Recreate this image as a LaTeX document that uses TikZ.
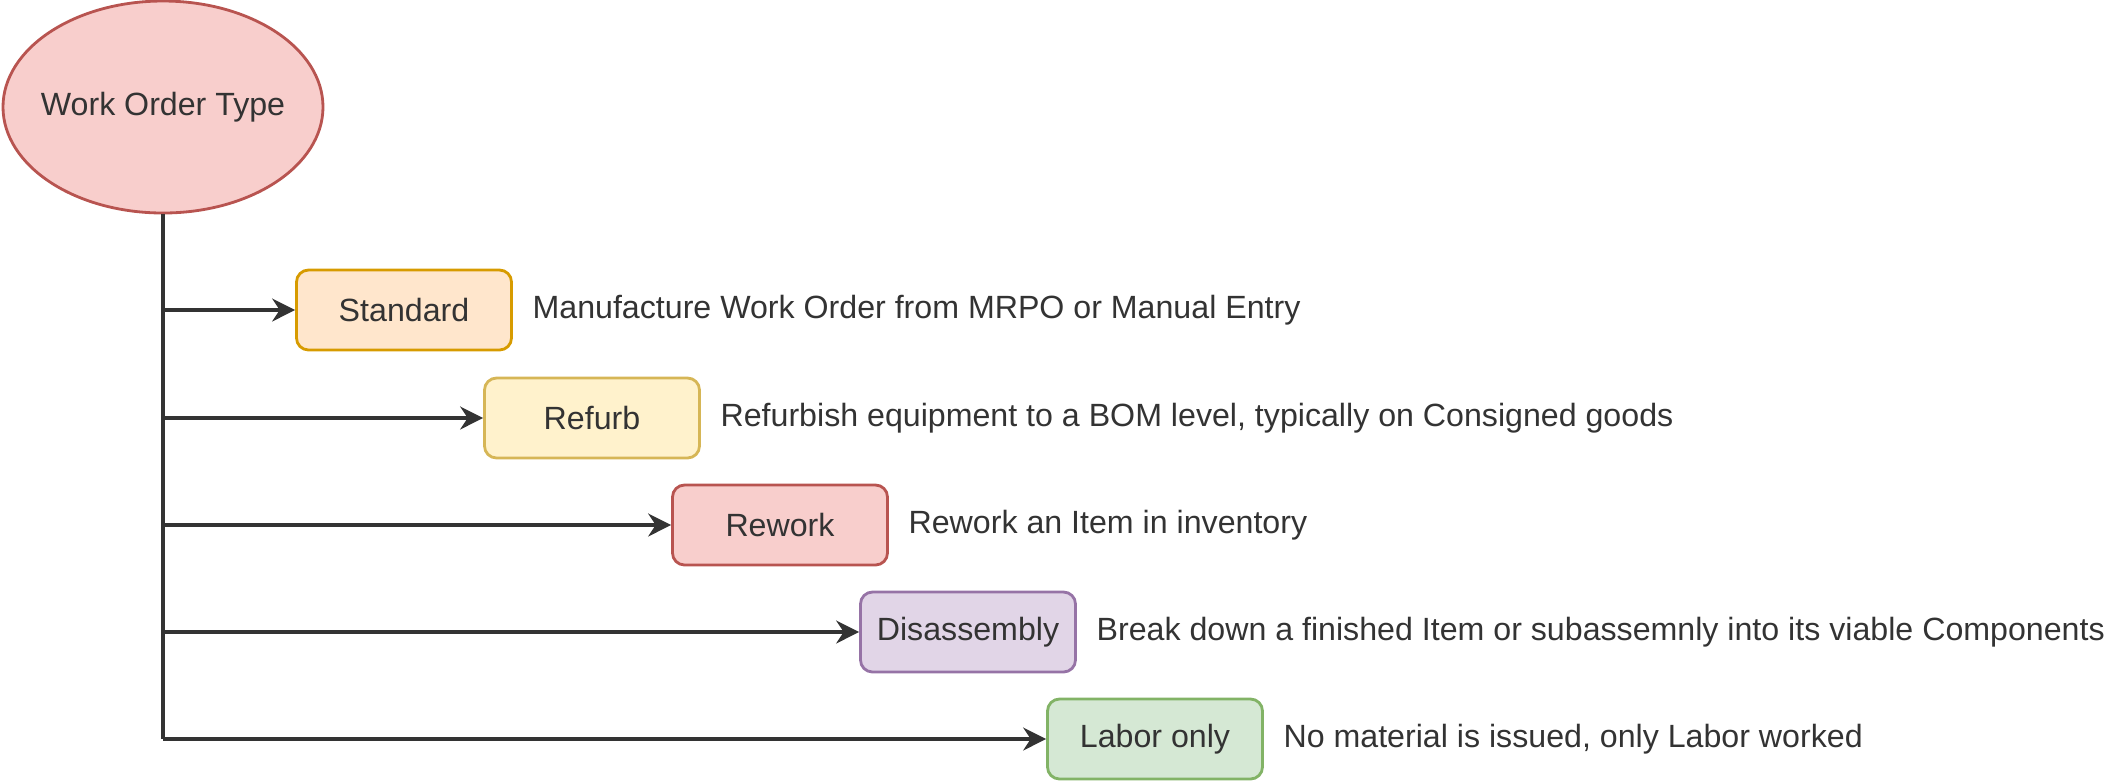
\documentclass[tikz,border=0pt]{standalone}
\usepackage{fontspec}
\setmainfont{Liberation Sans}
\usetikzlibrary{positioning,shapes.geometric,arrows.meta}
\definecolor{redfill}{HTML}{F8CECC}
\definecolor{redline}{HTML}{B85450}
\definecolor{orangefill}{HTML}{FFE6CC}
\definecolor{orangeline}{HTML}{D79B00}
\definecolor{yellowfill}{HTML}{FFF2CC}
\definecolor{yellowline}{HTML}{D6B656}
\definecolor{purplefill}{HTML}{E1D5E7}
\definecolor{purpleline}{HTML}{9673A6}
\definecolor{greenfill}{HTML}{D5E8D4}
\definecolor{greenline}{HTML}{82B366}
\definecolor{ink}{HTML}{333333}
\tikzset{
  typebox/.style={draw,rounded corners=0.12cm,line width=0.8pt,minimum width=2.15cm,minimum height=0.8cm,inner sep=0pt,text=ink,font=\fontsize{9.15}{11}\selectfont},
  note/.style={inner sep=0pt,text=ink,font=\fontsize{9.15}{11}\selectfont},
  branch/.style={line width=1pt,draw=ink,-{Stealth[length=6.5pt,width=6.5pt]}}
}
\begin{document}
\begin{tikzpicture}
\useasboundingbox (0,0) rectangle (21.24,-7.81);
\node[ellipse,draw=redline,fill=redfill,line width=0.8pt,minimum width=3.2cm,minimum height=2.12cm,inner xsep=-0.12cm,inner ysep=0pt,text=ink,font=\fontsize{9.15}{11}\selectfont] (wot) at (1.63,-1.07) {Work Order Type};
% the five types
\node[typebox,draw=orangeline,fill=orangefill] (std) at (4.04,-3.10) {Standard};
\node[typebox,draw=yellowline,fill=yellowfill] (ref) at (5.92,-4.18) {Refurb};
\node[typebox,draw=redline,fill=redfill] (rew) at (7.80,-5.25) {Rework};
\node[typebox,draw=purpleline,fill=purplefill] (dis) at (9.68,-6.32) {Disassembly};
\node[typebox,draw=greenline,fill=greenfill] (lab) at (11.55,-7.39) {Labor only};
\node[note,right=0.19cm of std] (stdnote) {Manufacture Work Order from MRPO or Manual Entry};
\node[note,right=0.19cm of ref] (refnote) {Refurbish equipment to a BOM level, typically on Consigned goods};
\node[note,right=0.19cm of rew] (rewnote) {Rework an Item in inventory};
\node[note,right=0.19cm of dis] (disnote) {Break down a finished Item or subassemnly into its viable Components};
\node[note,right=0.19cm of lab] (labnote) {No material is issued, only Labor worked};
% trunk and branches
\coordinate (b1) at (wot.south |- std.west);
\coordinate (b2) at (wot.south |- ref.west);
\coordinate (b3) at (wot.south |- rew.west);
\coordinate (b4) at (wot.south |- dis.west);
\coordinate (b5) at (wot.south |- lab.west);
\draw[line width=1pt,draw=ink] (wot.south) -- (b5);
\draw[branch] (b1) -- (std.west);
\draw[branch] (b2) -- (ref.west);
\draw[branch] (b3) -- (rew.west);
\draw[branch] (b4) -- (dis.west);
\draw[branch] (b5) -- (lab.west);
\end{tikzpicture}
\end{document}
